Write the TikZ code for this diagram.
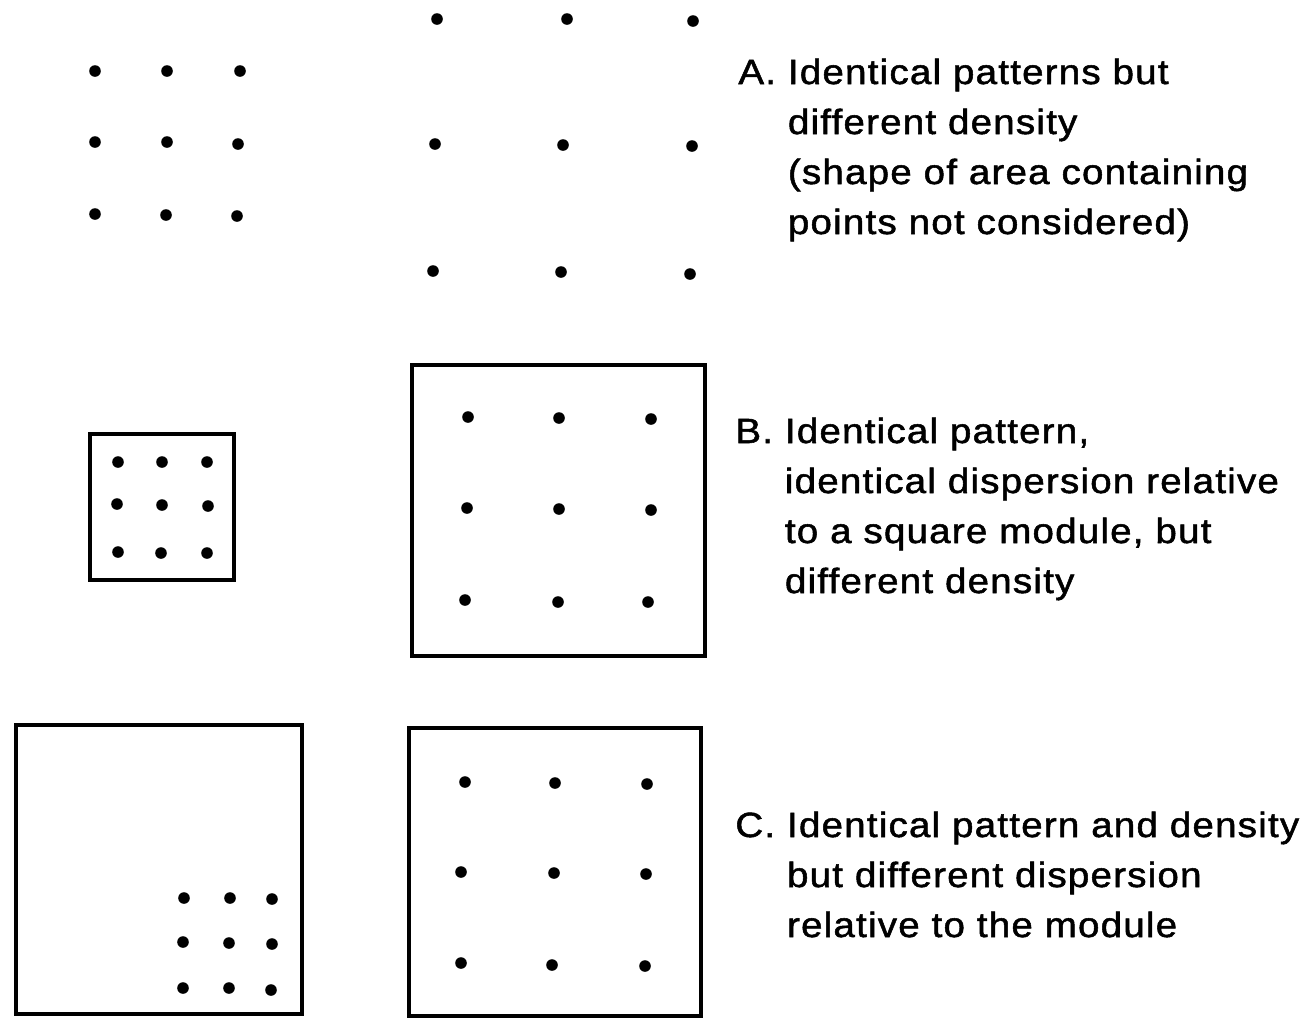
\documentclass[tikz,border=0pt]{standalone}
\usepackage{fontspec}
\usepackage{tikz}
\newfontfamily\capfont{Liberation Sans}[FakeStretch=1.1,LetterSpace=3.5,FakeBold=1.5]

\begin{document}
\begin{tikzpicture}[x=0.5pt,y=-0.5pt,
  spot/.style={fill=black},
  modbox/.style={line width=1.9pt},
  captext/.style={anchor=base west,inner sep=0pt,
    font=\capfont\fontsize{17.5pt}{25pt}\selectfont}]
\useasboundingbox (0,0) rectangle (1311,1019);
% PATTERN A, SMALL
\fill[spot] (95,71) circle [radius=2.9pt];
\fill[spot] (167,71) circle [radius=2.9pt];
\fill[spot] (240,71) circle [radius=2.9pt];
\fill[spot] (95,142) circle [radius=2.9pt];
\fill[spot] (167,142) circle [radius=2.9pt];
\fill[spot] (238,144) circle [radius=2.9pt];
\fill[spot] (95,214) circle [radius=2.9pt];
\fill[spot] (166,215) circle [radius=2.9pt];
\fill[spot] (237,216) circle [radius=2.9pt];
% PATTERN A, LARGE
\fill[spot] (437,19) circle [radius=2.9pt];
\fill[spot] (567,19) circle [radius=2.9pt];
\fill[spot] (693,21) circle [radius=2.9pt];
\fill[spot] (435,144) circle [radius=2.9pt];
\fill[spot] (563,145) circle [radius=2.9pt];
\fill[spot] (692,146) circle [radius=2.9pt];
\fill[spot] (433,271) circle [radius=2.9pt];
\fill[spot] (561,272) circle [radius=2.9pt];
\fill[spot] (690,274) circle [radius=2.9pt];
% PATTERN B, SMALL MODULE
\draw[modbox] (90,434) rectangle (234,580);
\fill[spot] (118,462) circle [radius=2.9pt];
\fill[spot] (162,462) circle [radius=2.9pt];
\fill[spot] (207,462) circle [radius=2.9pt];
\fill[spot] (117,504) circle [radius=2.9pt];
\fill[spot] (162,505) circle [radius=2.9pt];
\fill[spot] (208,506) circle [radius=2.9pt];
\fill[spot] (118,552) circle [radius=2.9pt];
\fill[spot] (161,553) circle [radius=2.9pt];
\fill[spot] (207,553) circle [radius=2.9pt];
% PATTERN B, LARGE MODULE
\draw[modbox] (412,365) rectangle (705,656);
\fill[spot] (468,417) circle [radius=2.9pt];
\fill[spot] (559,418) circle [radius=2.9pt];
\fill[spot] (651,419) circle [radius=2.9pt];
\fill[spot] (467,508) circle [radius=2.9pt];
\fill[spot] (559,509) circle [radius=2.9pt];
\fill[spot] (651,510) circle [radius=2.9pt];
\fill[spot] (465,600) circle [radius=2.9pt];
\fill[spot] (558,602) circle [radius=2.9pt];
\fill[spot] (648,602) circle [radius=2.9pt];
% PATTERN C, CORNER
\draw[modbox] (16,725) rectangle (302,1014);
\fill[spot] (184,898) circle [radius=2.9pt];
\fill[spot] (230,898) circle [radius=2.9pt];
\fill[spot] (272,899) circle [radius=2.9pt];
\fill[spot] (183,942) circle [radius=2.9pt];
\fill[spot] (229,943) circle [radius=2.9pt];
\fill[spot] (272,944) circle [radius=2.9pt];
\fill[spot] (183,988) circle [radius=2.9pt];
\fill[spot] (229,988) circle [radius=2.9pt];
\fill[spot] (271,990) circle [radius=2.9pt];
% PATTERN C, SPREAD
\draw[modbox] (409,728) rectangle (701,1016);
\fill[spot] (465,782) circle [radius=2.9pt];
\fill[spot] (555,783) circle [radius=2.9pt];
\fill[spot] (647,784) circle [radius=2.9pt];
\fill[spot] (461,872) circle [radius=2.9pt];
\fill[spot] (554,873) circle [radius=2.9pt];
\fill[spot] (646,874) circle [radius=2.9pt];
\fill[spot] (461,963) circle [radius=2.9pt];
\fill[spot] (552,965) circle [radius=2.9pt];
\fill[spot] (645,966) circle [radius=2.9pt];
% CAPTIONS
\node[captext] (capA) at (738,84) {\begin{tabular}[t]{@{}l@{\ }l@{}}
A. & Identical patterns but\\
   & different density\\
   & (shape of area containing\\
   & points not considered)
\end{tabular}};
\node[captext] (capB) at (735,443) {\begin{tabular}[t]{@{}l@{\ }l@{}}
B. & Identical pattern,\\
   & identical dispersion relative\\
   & to a square module, but\\
   & different density
\end{tabular}};
\node[captext] (capC) at (735,837) {\begin{tabular}[t]{@{}l@{\ }l@{}}
C. & Identical pattern and density\\
   & but different dispersion\\
   & relative to the module
\end{tabular}};
\end{tikzpicture}
\end{document}
